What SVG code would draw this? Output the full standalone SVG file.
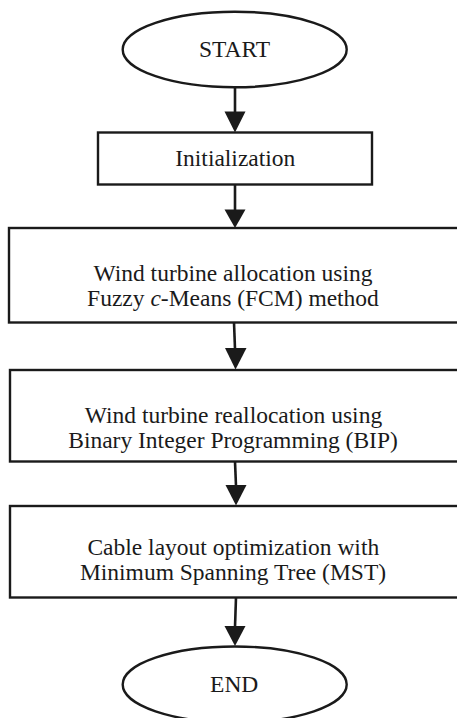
<svg xmlns="http://www.w3.org/2000/svg" width="457" height="718" viewBox="0 0 457 718">
<style>
.shape{fill:#fff;stroke:#1a1a1a;stroke-width:2.4}
.t{font-family:"Liberation Serif","Times New Roman",serif;font-size:23.5px;fill:#1a1a1a;text-anchor:middle}
.conn line{stroke:#1a1a1a;stroke-width:2.6}
.conn polygon{fill:#1a1a1a}
</style>
<rect width="457" height="718" fill="#fff"/>
<g id="start">
<ellipse class="shape" cx="234.7" cy="49.5" rx="112" ry="37.8"/>
<text class="t" x="234.5" y="57">START</text>
</g>
<g id="init">
<rect class="shape" x="98" y="132.5" width="274" height="52"/>
<text class="t" x="235.3" y="166">Initialization</text>
</g>
<g id="fcm">
<rect class="shape" x="9" y="228" width="452" height="94.5"/>
<text class="t" x="233" y="280.5">Wind turbine allocation using</text>
<text class="t" x="233" y="306">Fuzzy <tspan font-style="italic">c</tspan>-Means (FCM) method</text>
</g>
<g id="bip">
<rect class="shape" x="10" y="370" width="452" height="91.5"/>
<text class="t" x="233.5" y="422.5">Wind turbine reallocation using</text>
<text class="t" x="233" y="447.5">Binary Integer Programming (BIP)</text>
</g>
<g id="mst">
<rect class="shape" x="10" y="506" width="452" height="91.5"/>
<text class="t" x="233.3" y="555">Cable layout optimization with</text>
<text class="t" x="233" y="580">Minimum Spanning Tree (MST)</text>
</g>
<g id="end">
<ellipse class="shape" cx="234.7" cy="684.5" rx="112" ry="38"/>
<text class="t" x="234.2" y="692">END</text>
</g>
<g id="connectors" class="conn">
<line x1="235" y1="87" x2="235" y2="113"/>
<polygon points="224.5,111.5 245.5,111.5 235,132.5"/>
<line x1="235" y1="184.5" x2="235" y2="211"/>
<polygon points="224.5,209.5 245.5,209.5 235,228"/>
<line x1="234" y1="322.5" x2="235" y2="349"/>
<polygon points="225,348 246.5,348 235.5,369.5"/>
<line x1="235" y1="461.5" x2="236" y2="486"/>
<polygon points="225.5,485 246.5,485 236,505.5"/>
<line x1="236" y1="597.5" x2="235" y2="627"/>
<polygon points="224.5,626 245.5,626 235,646"/>
</g>
</svg>
